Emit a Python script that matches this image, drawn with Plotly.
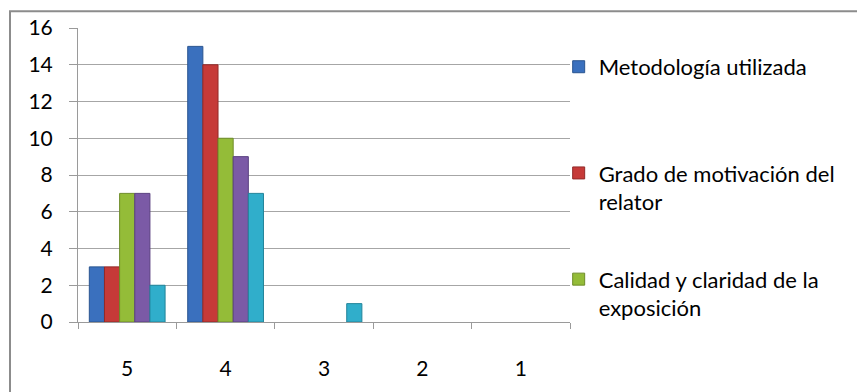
import plotly.graph_objects as go

# Rating scale shown on the category axis (best to worst)
categories = ["5", "4", "3", "2", "1"]

# Number of responses per rating, one list per evaluated aspect
metodologia = [3, 15, 0, 0, 0]
motivacion = [3, 14, 0, 0, 0]
calidad = [7, 10, 0, 0, 0]
serie_4 = [7, 9, 0, 0, 0]
serie_5 = [2, 7, 1, 0, 0]

series_names = [
    "Metodología utilizada<br> ",
    "Grado de motivación del<br>relator",
    "Calidad y claridad de la<br>exposición",
    "Serie 4",
    "Serie 5",
]
series_values = [metodologia, motivacion, calidad, serie_4, serie_5]
fill_colors = ["#3A70BE", "#C63A38", "#94BC38", "#7B5AA6", "#30AECB"]
edge_colors = ["#2A5590", "#922A28", "#6E8C28", "#5A4080", "#22849A"]
in_legend = [True, True, True, False, False]

FONT = "Lato, 'Open Sans', sans-serif"

fig = go.Figure()
for i, (name, vals) in enumerate(zip(series_names, series_values)):
    fig.add_trace(go.Bar(
        x=categories,
        y=vals,
        name=name,
        legendgroup=f"g{i}",
        showlegend=in_legend[i],
        marker=dict(
            color=fill_colors[i],
            # no outline on empty bars so they leave no trace on the axis
            line=dict(color=edge_colors[i], width=[1 if v > 0 else 0 for v in vals]),
        ),
    ))

fig.update_layout(
    width=857,
    height=392,
    margin=dict(l=78, r=287, t=28, b=67),
    paper_bgcolor="white",
    plot_bgcolor="white",
    barmode="group",
    bargap=0.23,
    bargroupgap=0,
    font=dict(family=FONT, size=21, color="#000000"),
    legend=dict(
        x=0.977, xanchor="left",
        y=0.939, yanchor="top",
        valign="top",
        tracegroupgap=46,
        maxheight=390,
        font=dict(family=FONT, size=22, color="#000000"),
        itemwidth=30,
        bgcolor="rgba(0,0,0,0)",
    ),
    xaxis=dict(
        type="category",
        showline=True, linecolor="#9A9A9A", linewidth=1,
        ticks="outside", tickson="boundaries", ticklen=6, tickcolor="#9A9A9A",
        ticklabelstandoff=28,
        showgrid=False,
        tickfont=dict(family=FONT, size=21),
    ),
    yaxis=dict(
        range=[0, 16], dtick=2,
        showline=True, linecolor="#9A9A9A", linewidth=1,
        ticks="outside", ticklen=8, tickcolor="#9A9A9A",
        ticklabelstandoff=12,
        showgrid=True, gridcolor="#A6A6A6", gridwidth=1,
        zeroline=False,
        tickfont=dict(family=FONT, size=21),
    ),
    shapes=[
        # chart frame (continues past the right and bottom edges)
        dict(type="rect", xref="paper", yref="paper",
             x0=-68 / 492, x1=1.7, y0=-0.5, y1=1 + 17 / 297,
             line=dict(color="#8C8C8C", width=2), fillcolor="rgba(0,0,0,0)", layer="below"),
    ],
)

fig.write_html("out.html")
